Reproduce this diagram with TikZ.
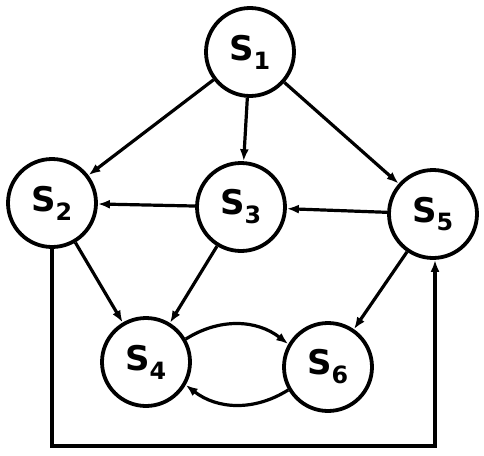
\documentclass[tikz,border=0pt]{standalone}
\usepackage{fontspec}
\setsansfont{DejaVu Sans}
\usetikzlibrary{arrows.meta}
\begin{document}
\begin{tikzpicture}[x=1pt,y=-1pt,
  state/.style={circle,draw,line width=3.8pt,minimum size=88pt,inner sep=0pt,
    font=\sffamily\bfseries\fontsize{34}{38}\selectfont},
  edge/.style={line width=3.2pt,-{Latex[length=12pt,width=9pt]}}]
\useasboundingbox (0,0) rectangle (484,455);
% states
\node[state] (s1) at (250,52) {S\textsubscript{1}};
\node[state] (s2) at (52,203) {S\textsubscript{2}};
\node[state] (s3) at (241,207) {S\textsubscript{3}};
\node[state] (s5) at (433,214) {S\textsubscript{5}};
\node[state] (s4) at (146,362) {S\textsubscript{4}};
\node[state] (s6) at (328,367) {S\textsubscript{6}};
% corner of the return path along the bottom
\coordinate (c2) at (435,446);
% transitions
\draw[edge] (s1) -- (s2);
\draw[edge] (s1) -- (s3);
\draw[edge] (s1) -- (s5);
\draw[edge] (s3) -- (s2);
\draw[edge] (s5) -- (s3);
\draw[edge] (s2) -- (s4);
\draw[edge] (s3) -- (s4);
\draw[edge] (s5) -- (s6);
\draw[edge] (s4.30) to[bend left=35] (s6.150);
\draw[edge] (s6.210) to[bend left=35] (s4.330);
\draw[edge] (s2.south) |- (c2) -- (c2 |- s5.south);
\end{tikzpicture}
\end{document}
